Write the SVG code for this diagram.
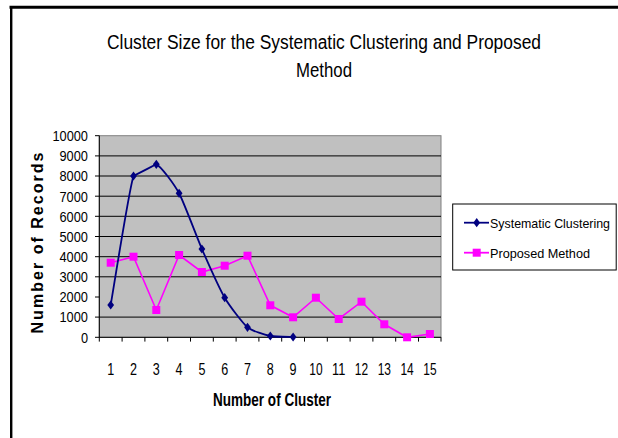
<svg xmlns="http://www.w3.org/2000/svg" width="618" height="438" viewBox="0 0 618 438">
<style>
text{font-family:"Liberation Sans Narrow","Liberation Sans",Arial,sans-serif;fill:#000}
.yl{font-size:15px;text-anchor:end}
.xl{font-size:17px;text-anchor:middle}
.grid{stroke:#000;stroke-width:1}
.ax{stroke:#000;stroke-width:1;fill:none}
.sys{fill:none;stroke:#000080;stroke-width:1.8}
.pro{fill:none;stroke:#FF00FF;stroke-width:1.6}
.lg{font-size:13px}
</style>
<defs>
<polygon id="dia" points="0,-4.6 3.4,0 0,4.6 -3.4,0" fill="#000080"/>
<rect id="sq" x="-4" y="-4" width="8" height="8" fill="#FF00FF"/>
</defs>
<rect width="618" height="438" fill="#fff"/>
<g id="frame">
<line x1="9.5" y1="7.2" x2="618" y2="7.2" stroke="#000" stroke-width="3"/>
<line x1="11.2" y1="6" x2="11.2" y2="438" stroke="#000" stroke-width="2.4"/>
</g>
<g id="title" style="font-size:20px;text-anchor:middle">
<text x="324" y="48.5" textLength="434" lengthAdjust="spacingAndGlyphs">Cluster Size for the Systematic Clustering and Proposed</text>
<text x="324" y="76.5" textLength="56" lengthAdjust="spacingAndGlyphs">Method</text>
</g>
<g id="plot-area">
<rect x="99.3" y="135.7" width="341.7" height="201.6" fill="#C0C0C0" stroke="#808080" stroke-width="1"/>
<g class="grid">
<line x1="99.3" y1="317.1" x2="441" y2="317.1"/>
<line x1="99.3" y1="276.8" x2="441" y2="276.8"/>
<line x1="99.3" y1="256.7" x2="441" y2="256.7"/>
<line x1="99.3" y1="236.5" x2="441" y2="236.5"/>
<line x1="99.3" y1="216.3" x2="441" y2="216.3"/>
<line x1="99.3" y1="196.2" x2="441" y2="196.2"/>
<line x1="99.3" y1="176" x2="441" y2="176"/>
<line x1="99.3" y1="155.9" x2="441" y2="155.9"/>
</g>
</g>
<g id="y-axis">
<path class="ax" d="M99.3,135.7V337.3M95,135.7H99.3M95,155.9H99.3M95,176H99.3M95,196.2H99.3M95,216.3H99.3M95,236.5H99.3M95,256.7H99.3M95,276.8H99.3M95,297H99.3M95,317.1H99.3M95,337.3H99.3"/>
<text class="yl" x="88" y="141" textLength="35.6" lengthAdjust="spacingAndGlyphs">10000</text>
<text class="yl" x="88" y="161.2" textLength="28.5" lengthAdjust="spacingAndGlyphs">9000</text>
<text class="yl" x="88" y="181.3" textLength="28.5" lengthAdjust="spacingAndGlyphs">8000</text>
<text class="yl" x="88" y="201.5" textLength="28.5" lengthAdjust="spacingAndGlyphs">7000</text>
<text class="yl" x="88" y="221.6" textLength="28.5" lengthAdjust="spacingAndGlyphs">6000</text>
<text class="yl" x="88" y="241.8" textLength="28.5" lengthAdjust="spacingAndGlyphs">5000</text>
<text class="yl" x="88" y="262" textLength="28.5" lengthAdjust="spacingAndGlyphs">4000</text>
<text class="yl" x="88" y="282.1" textLength="28.5" lengthAdjust="spacingAndGlyphs">3000</text>
<text class="yl" x="88" y="302.3" textLength="28.5" lengthAdjust="spacingAndGlyphs">2000</text>
<text class="yl" x="88" y="322.4" textLength="28.5" lengthAdjust="spacingAndGlyphs">1000</text>
<text class="yl" x="88" y="342.6" textLength="7.1" lengthAdjust="spacingAndGlyphs">0</text>
<text transform="translate(43.3,243) rotate(-90)" style="font-size:16px;font-weight:bold;text-anchor:middle" textLength="181" lengthAdjust="spacing">Number of Records</text>
</g>
<g id="x-axis">
<path class="ax" d="M99.3,337.3H441M99.3,337.3V341.6M122.1,337.3V341.6M144.9,337.3V341.6M167.7,337.3V341.6M190.5,337.3V341.6M213.3,337.3V341.6M236.1,337.3V341.6M258.9,337.3V341.6M281.7,337.3V341.6M304.5,337.3V341.6M327.3,337.3V341.6M350.1,337.3V341.6M372.9,337.3V341.6M395.7,337.3V341.6M418.5,337.3V341.6M441,337.3V341.6"/>
<text class="xl" x="110.7" y="375" textLength="7" lengthAdjust="spacingAndGlyphs">1</text>
<text class="xl" x="133.5" y="375" textLength="7" lengthAdjust="spacingAndGlyphs">2</text>
<text class="xl" x="156.3" y="375" textLength="7" lengthAdjust="spacingAndGlyphs">3</text>
<text class="xl" x="179.1" y="375" textLength="7" lengthAdjust="spacingAndGlyphs">4</text>
<text class="xl" x="201.9" y="375" textLength="7" lengthAdjust="spacingAndGlyphs">5</text>
<text class="xl" x="224.7" y="375" textLength="7" lengthAdjust="spacingAndGlyphs">6</text>
<text class="xl" x="247.5" y="375" textLength="7" lengthAdjust="spacingAndGlyphs">7</text>
<text class="xl" x="270.3" y="375" textLength="7" lengthAdjust="spacingAndGlyphs">8</text>
<text class="xl" x="293.1" y="375" textLength="7" lengthAdjust="spacingAndGlyphs">9</text>
<text class="xl" x="315.9" y="375" textLength="13.3" lengthAdjust="spacingAndGlyphs">10</text>
<text class="xl" x="338.7" y="375" textLength="13.3" lengthAdjust="spacingAndGlyphs">11</text>
<text class="xl" x="361.5" y="375" textLength="13.3" lengthAdjust="spacingAndGlyphs">12</text>
<text class="xl" x="384.3" y="375" textLength="13.3" lengthAdjust="spacingAndGlyphs">13</text>
<text class="xl" x="407.1" y="375" textLength="13.3" lengthAdjust="spacingAndGlyphs">14</text>
<text class="xl" x="429.9" y="375" textLength="13.3" lengthAdjust="spacingAndGlyphs">15</text>
<text x="272" y="405.5" style="font-size:18px;font-weight:bold;text-anchor:middle" textLength="118" lengthAdjust="spacingAndGlyphs">Number of Cluster</text>
</g>
<g id="series-proposed">
<polyline class="pro" points="110.7,262.7 133.5,256.7 156.3,310 179.1,255 201.9,272 224.7,265.7 247.5,255.7 270.3,305.3 293.1,317.3 315.9,297.7 338.7,319 361.5,301.7 384.3,324.3 407.1,337.3 429.9,334"/>
<use href="#sq" x="110.7" y="262.7"/>
<use href="#sq" x="133.5" y="256.7"/>
<use href="#sq" x="156.3" y="310"/>
<use href="#sq" x="179.1" y="255"/>
<use href="#sq" x="201.9" y="272"/>
<use href="#sq" x="224.7" y="265.7"/>
<use href="#sq" x="247.5" y="255.7"/>
<use href="#sq" x="270.3" y="305.3"/>
<use href="#sq" x="293.1" y="317.3"/>
<use href="#sq" x="315.9" y="297.7"/>
<use href="#sq" x="338.7" y="319"/>
<use href="#sq" x="361.5" y="301.7"/>
<use href="#sq" x="384.3" y="324.3"/>
<use href="#sq" x="407.1" y="337.3"/>
<use href="#sq" x="429.9" y="334"/>
</g>
<g id="series-systematic">
<path class="sys" d="M110.7,305 C112.98,292.1 128.94,190.07 133.5,176 C141.1,172.1 148.7,168.2 156.3,164.3 C160.86,166.03 174.54,184.83 179.1,193.3 C183.66,201.77 197.34,238.56 201.9,249 C206.46,259.44 220.14,289.87 224.7,297.7 C229.26,305.53 242.94,323.47 247.5,327.3 C252.06,331.13 265.74,335.03 270.3,336 C274.86,336.97 290.82,336.9 293.1,337"/>
<use href="#dia" x="110.7" y="305"/>
<use href="#dia" x="133.5" y="176"/>
<use href="#dia" x="156.3" y="164.3"/>
<use href="#dia" x="179.1" y="193.3"/>
<use href="#dia" x="201.9" y="249"/>
<use href="#dia" x="224.7" y="297.7"/>
<use href="#dia" x="247.5" y="327.3"/>
<use href="#dia" x="270.3" y="336"/>
<use href="#dia" x="293.1" y="337"/>
</g>
<g id="legend">
<rect x="452.7" y="204" width="163.5" height="66" fill="#fff" stroke="#000" stroke-width="1"/>
<line x1="464" y1="222.7" x2="489" y2="222.7" stroke="#000080" stroke-width="1.8"/>
<use href="#dia" x="476.7" y="222.7"/>
<text class="lg" x="490" y="227.5" textLength="120" lengthAdjust="spacingAndGlyphs">Systematic Clustering</text>
<line x1="464" y1="252.7" x2="489" y2="252.7" stroke="#FF00FF" stroke-width="1.8"/>
<use href="#sq" x="476.7" y="252.7"/>
<text class="lg" x="490" y="257.5" textLength="100" lengthAdjust="spacingAndGlyphs">Proposed Method</text>
</g>
</svg>
